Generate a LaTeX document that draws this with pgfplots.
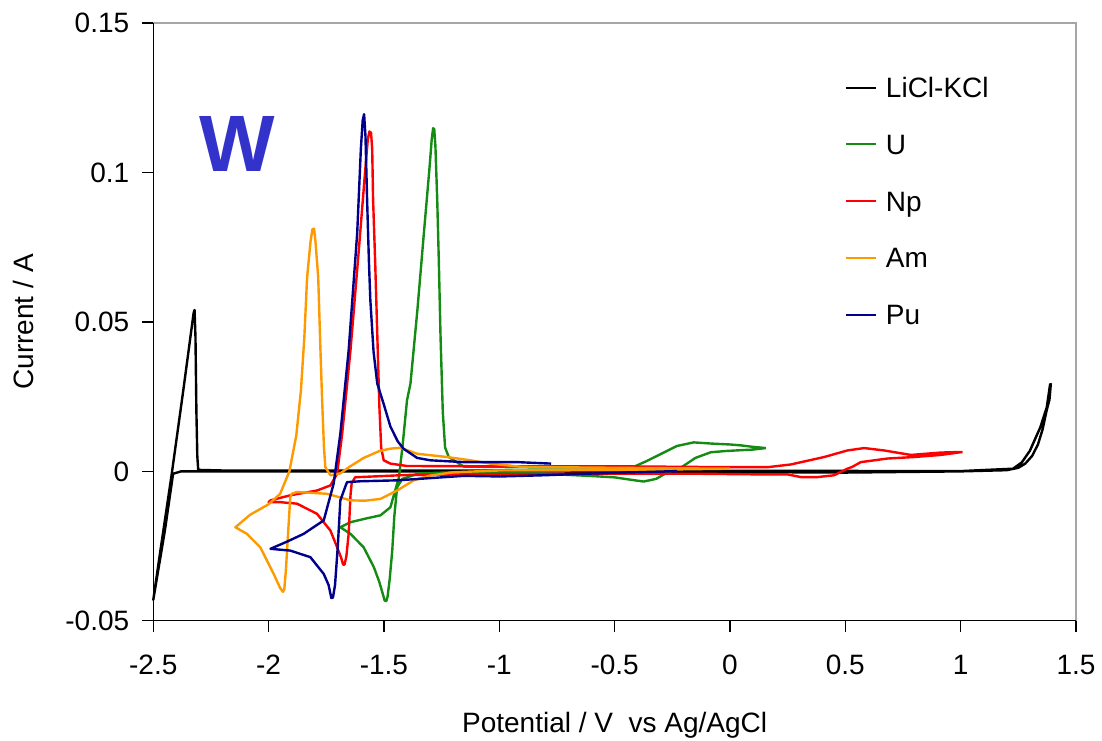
\documentclass[border=0pt]{standalone}
\usepackage{fontspec}
\setmainfont{Liberation Sans}
\usepackage{pgfplots}
\pgfplotsset{compat=1.18}
\definecolor{cvU}{RGB}{20,140,20}
\definecolor{cvNp}{RGB}{255,0,0}
\definecolor{cvAm}{RGB}{255,153,0}
\definecolor{cvPu}{RGB}{0,0,140}
\definecolor{wblue}{RGB}{51,51,204}
\newcommand{\lbl}{\fontsize{14}{16}\selectfont}

\begin{document}
\begin{tikzpicture}
\useasboundingbox (-76.65pt,-60pt) rectangle (474.5pt,310.5pt);
\begin{axis}[name=ax,
  width=461.5pt, height=299pt, scale only axis,
  xmin=-2.5, xmax=1.5, ymin=-0.05, ymax=0.15,
  xtick={-2.5,-2,-1.5,-1,-0.5,0,0.5,1,1.5},
  ytick={-0.05,0,0.05,0.1,0.15},
  tick pos=left, tick align=outside, major tick length=5.5pt,
  tick style={black, line width=0.6pt},
  axis line style={draw=gray!70, line width=0.6pt},
  scaled ticks=false,
  ticklabel style={font=\lbl},
  /pgf/number format/assume math mode=true,
  xticklabel style={/pgf/number format/fixed, yshift=-8pt},
  yticklabel style={/pgf/number format/fixed, /pgf/number format/precision=2, xshift=-3pt},
  xlabel={Potential / V\ \ vs Ag/AgCl}, ylabel={Current / A},
  label style={font=\lbl},
  xlabel style={at={(axis description cs:0.5,-0.187)}, anchor=base},
  ylabel style={at={(axis description cs:-0.141,0.5)}, anchor=center},
  legend style={at={(axis description cs:0.749,0.916)}, anchor=north west,
    draw=none, fill=none, inner sep=0pt, font=\lbl, row sep=14.4pt,
    nodes={text height=10pt, text depth=0pt, inner sep=2pt}},
  legend cell align=left,
  legend image code/.code={\draw[#1, line width=1pt] (0pt,0pt) -- (15pt,0pt); \path (17.5pt,0pt);},
  every axis plot/.append style={line width=1.2pt, line join=round},
  clip=false,
]
% LiCl-KCl
\addplot[black] coordinates {
 (1.391,0.0295) (1.385,0.024) (1.373,0.0205) (1.355,0.014) (1.335,0.009) (1.31,0.0052)
 (1.28,0.0026) (1.25,0.0012) (1.2,0.0004) (1.0,0.0) (0.5,-0.0004) (0.0,-0.0002)
 (-1.0,0.0) (-2.0,0.0) (-2.38,0.0) (-2.414,-0.0008) (-2.45,-0.02) (-2.5,-0.043)
 (-2.47,-0.027) (-2.42,-0.0009) (-2.37,0.027) (-2.325,0.053) (-2.321,0.054) (-2.317,0.045)
 (-2.313,0.02) (-2.309,0.005) (-2.305,0.0005) (-2.2,0.0003) (-1.0,0.0003)
 (0.0,0.0002) (1.0,0.0001) (1.227,0.0009) (1.265,0.003) (1.3,0.0069)
 (1.345,0.0147) (1.373,0.0214) (1.388,0.0293)
};
\addlegendentry{LiCl-KCl}
% U
\addplot[cvU] coordinates {
 (0.155,0.0078) (0.10,0.0073) (0.05,0.0071) (-0.02,0.0068) (-0.083,0.0064)
 (-0.15,0.0045) (-0.21,0.0014) (-0.27,-0.0003) (-0.32,-0.0025) (-0.374,-0.0034)
 (-0.43,-0.0028) (-0.5,-0.002) (-0.59,-0.0016) (-0.8,-0.0008) (-1.0,-0.0005)
 (-1.2,-0.0003) (-1.35,-0.0007) (-1.42,-0.0025) (-1.443,-0.0053) (-1.455,-0.015)
 (-1.464,-0.0265) (-1.475,-0.036) (-1.484,-0.0418) (-1.49,-0.0434) (-1.497,-0.0432)
 (-1.505,-0.041) (-1.52,-0.037) (-1.544,-0.032) (-1.588,-0.0254) (-1.645,-0.0209)
 (-1.689,-0.0187) (-1.645,-0.017) (-1.58,-0.0158) (-1.515,-0.0147) (-1.472,-0.012)
 (-1.45,-0.006) (-1.435,-0.002) (-1.42,0.008) (-1.4,0.0238) (-1.385,0.0294)
 (-1.355,0.054) (-1.327,0.0796) (-1.302,0.102) (-1.293,0.111) (-1.287,0.1148)
 (-1.282,0.1145) (-1.277,0.109) (-1.269,0.0908) (-1.262,0.07) (-1.255,0.046)
 (-1.245,0.02) (-1.235,0.008) (-1.219,0.0048) (-1.154,0.0016) (-0.8,0.0013)
 (-0.5,0.0013) (-0.42,0.0014) (-0.36,0.0035) (-0.3,0.0058) (-0.23,0.0085)
 (-0.157,0.0097) (-0.08,0.0093) (0.0,0.009) (0.047,0.0087) (0.10,0.0082) (0.155,0.0078)
};
\addlegendentry{U}
% Np
\addplot[cvNp] coordinates {
 (1.008,0.0065) (0.914,0.0055) (0.798,0.0048) (0.683,0.0043) (0.567,0.0031)
 (0.53,0.0015) (0.509,0.0009) (0.451,-0.0013) (0.38,-0.0019) (0.307,-0.0019)
 (0.249,-0.001) (0.119,-0.001) (-0.127,-0.0008) (-0.5,-0.0008) (-1.0,-0.0009)
 (-1.4,-0.0012) (-1.604,-0.0019) (-1.625,-0.002) (-1.64,-0.004) (-1.645,-0.008)
 (-1.653,-0.0209) (-1.663,-0.0285) (-1.671,-0.0312) (-1.677,-0.0312) (-1.685,-0.029)
 (-1.703,-0.0254) (-1.732,-0.0198) (-1.79,-0.0142) (-1.877,-0.0108) (-1.95,-0.0103)
 (-2.0,-0.0103) (-1.992,-0.0097) (-1.906,-0.008) (-1.79,-0.0064) (-1.732,-0.0047)
 (-1.703,-0.0008) (-1.681,0.0126) (-1.645,0.0405) (-1.609,0.074) (-1.58,0.1019)
 (-1.57,0.111) (-1.563,0.1137) (-1.556,0.1133) (-1.551,0.108) (-1.547,0.0908)
 (-1.538,0.07) (-1.529,0.0461) (-1.52,0.022) (-1.512,0.008) (-1.501,0.0037)
 (-1.472,0.0026) (-1.4,0.0018) (-1.0,0.0017) (-0.5,0.0017) (0.0,0.0014)
 (0.162,0.0014) (0.263,0.0023) (0.408,0.0048) (0.509,0.007) (0.582,0.0078)
 (0.668,0.007) (0.784,0.0055) (0.914,0.0063) (1.008,0.0065)
};
\addlegendentry{Np}
% Am
\addplot[cvAm] coordinates {
 (0.0,0.0009) (-0.5,0.0004) (-1.0,0.0003) (-1.2,-0.0003) (-1.3,-0.0014)
 (-1.371,-0.003) (-1.443,-0.0064) (-1.515,-0.0092) (-1.58,-0.0098) (-1.645,-0.0097)
 (-1.746,-0.0075) (-1.877,-0.0069) (-1.9,-0.0075) (-1.906,-0.0086) (-1.915,-0.02)
 (-1.925,-0.033) (-1.932,-0.0395) (-1.938,-0.0403) (-1.95,-0.039) (-1.978,-0.0343)
 (-2.036,-0.0254) (-2.094,-0.0209) (-2.144,-0.0187) (-2.08,-0.0145) (-2.0,-0.011)
 (-1.95,-0.0075) (-1.91,0.0) (-1.88,0.012) (-1.86,0.027) (-1.845,0.045)
 (-1.833,0.065) (-1.818,0.077) (-1.81,0.081) (-1.803,0.0812) (-1.797,0.077)
 (-1.785,0.065) (-1.775,0.04) (-1.768,0.0238) (-1.76,0.008) (-1.754,0.0014)
 (-1.732,-0.0013) (-1.69,-0.0007) (-1.65,0.0015) (-1.588,0.0045) (-1.52,0.0068)
 (-1.472,0.0076) (-1.429,0.0079) (-1.356,0.0059) (-1.226,0.0048) (-1.125,0.0037)
 (-1.038,0.0026) (-0.9,0.0015) (-0.5,0.0012) (0.0,0.0009)
};
\addlegendentry{Am}
% Pu
\addplot[cvPu] coordinates {
 (-0.229,0.0001) (-0.59,-0.0007) (-0.81,-0.0013) (-0.994,-0.0017) (-1.154,-0.0015)
 (-1.443,-0.003) (-1.6,-0.0033) (-1.66,-0.0036) (-1.667,-0.005) (-1.689,-0.0097)
 (-1.70,-0.025) (-1.712,-0.038) (-1.721,-0.0422) (-1.728,-0.0424) (-1.74,-0.038)
 (-1.761,-0.0343) (-1.819,-0.0287) (-1.906,-0.0265) (-1.992,-0.0259) (-1.92,-0.0235)
 (-1.848,-0.0209) (-1.761,-0.0164) (-1.718,-0.0041) (-1.689,0.0126) (-1.653,0.0405)
 (-1.616,0.0796) (-1.6,0.108) (-1.592,0.1175) (-1.586,0.1195) (-1.58,0.112)
 (-1.573,0.0908) (-1.565,0.07) (-1.559,0.0573) (-1.545,0.04) (-1.529,0.0294)
 (-1.501,0.0225) (-1.472,0.015) (-1.44,0.01) (-1.414,0.0075) (-1.356,0.0045)
 (-1.298,0.0037) (-1.154,0.0031) (-0.923,0.0031) (-0.775,0.0026)
};
\addlegendentry{Pu}
\node[font=\fontsize{40}{44}\selectfont\bfseries, text=wblue, anchor=center, inner sep=0pt]
  at (axis cs:-2.135,0.1096) {W};
\end{axis}
\draw[black, line width=0.6pt] (ax.north west) -- (ax.south west) -- (ax.south east);
\end{tikzpicture}
\end{document}
